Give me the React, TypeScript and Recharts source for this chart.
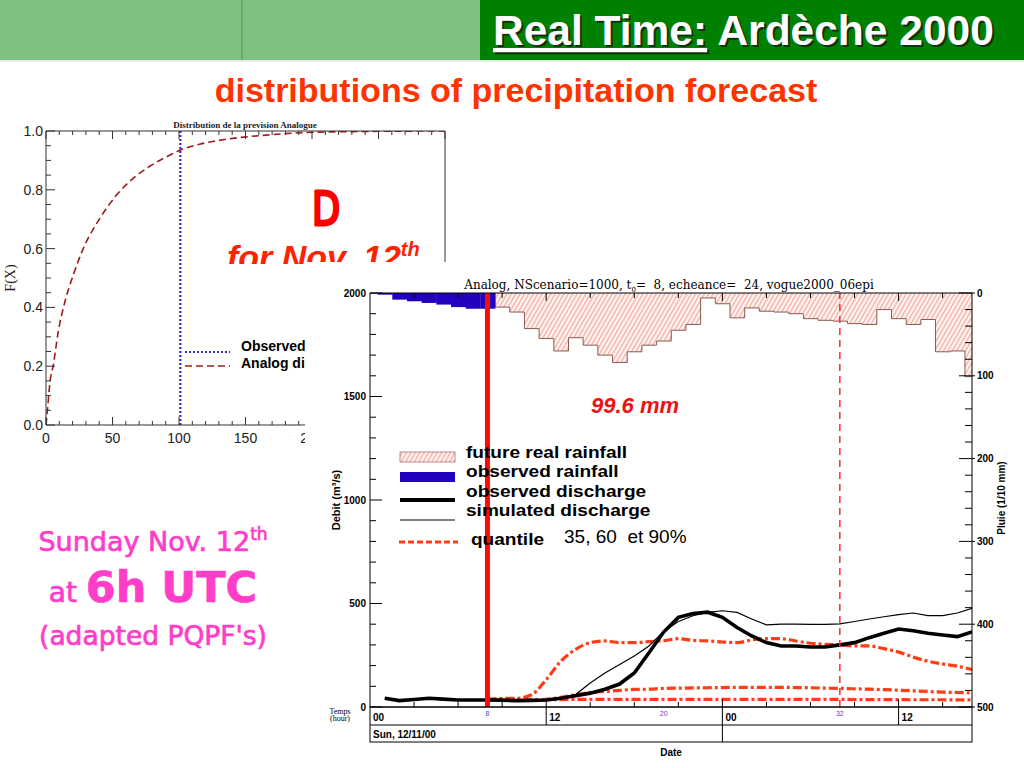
import React from 'react';
import { ComposedChart, LineChart, Line, Bar, XAxis, YAxis, ReferenceLine } from 'recharts';

// ---------------- Left panel : CDF of the analog precipitation forecast ----------------
const cdfPrecip = [0, 1.2, 3, 5.5, 9.2, 14.2, 20.5, 28, 40.5, 53, 65.5, 78, 90.5, 101, 115.5, 140.5, 165.5, 190.5, 215.5, 250, 300];
const cdfProb = [0, 0.057, 0.147, 0.204, 0.317, 0.419, 0.51, 0.6, 0.703, 0.782, 0.839, 0.88, 0.912, 0.935, 0.955, 0.975, 0.986, 0.994, 0.997, 0.999, 1.0];
const observedPrecip = 101;
const cdfXLabels = [0, 50, 100, 150, 200, 250, 300];
const cdfYLabels = [0, 0.2, 0.4, 0.6, 0.8, 1.0];
const cdfXMinor = Array.from({ length: 31 }, (_, i) => i * 10);
const cdfYMinor = Array.from({ length: 21 }, (_, i) => Math.round(i * 5) / 100);

// ---------------- Right panel : hydrograph (hours from Sun 12/11/00 00h) ----------------
const hours = [0, 1, 2, 3, 4, 5, 6, 7, 8, 9, 10, 11, 12, 13, 14, 15, 16, 17, 18, 19, 20, 21, 22, 23, 24, 25, 26, 27, 28, 29, 30, 31, 32, 33, 34, 35, 36, 37, 38, 39, 40, 41];
const FC_START = 8; // forecast time t0
const QUANT_MARK = 32;
// observed rainfall (1/10 mm), hours 0..8
const observedRain = [0.5, 2, 8, 10, 12, 14, 17, 19, 19];
// future real rainfall (1/10 mm), hours 9..41
const FUT_START = 9;
const futureRain = [17, 23, 43, 55, 70, 54, 63, 75, 84, 71, 63, 58, 45, 38, 6, 13, 30, 18, 22, 23, 25, 31, 33, 34, 37, 38, 20, 31, 38, 32, 71, 70, 101];
// observed discharge (m3/s), hours 0..41
const observedDischarge = [null, 42, 31, 36, 42, 38, 34, 34, 34, 33, 31, 32, 34, 42, 54, 67, 86, 111, 164, 262, 362, 433, 452, 458, 433, 384, 343, 311, 295, 295, 290, 290, 300, 311, 335, 356, 377, 368, 356, 348, 340, 363];
// simulated discharge and quantiles, hours 8..41
const simulatedDischarge = [34, 33, 31, 32, 34, 42, 60, 116, 164, 205, 246, 295, 365, 413, 441, 457, 465, 457, 425, 397, 400, 400, 399, 399, 402, 413, 425, 436, 446, 454, 441, 441, 454, 477];
const quantile90 = [37, 41, 42, 59, 132, 221, 278, 311, 319, 311, 311, 316, 320, 330, 322, 319, 314, 311, 324, 330, 330, 319, 308, 303, 300, 295, 295, 282, 265, 241, 221, 208, 197, 181];
const quantile60 = [37, 37, 34, 35, 37, 47, 59, 70, 75, 80, 85, 86, 90, 91, 92, 93, 94, 95, 95, 95, 95, 94, 93, 91, 90, 88, 86, 84, 81, 78, 75, 72, 70, 68];
const quantile35 = [37, 36, 35, 35, 35, 36, 37, 37, 37, 37, 37, 37, 37, 37, 37, 37, 37, 37, 37, 37, 37, 37, 37, 37, 37, 36, 36, 36, 36, 35, 35, 35, 34, 34];

const dischargeTicks = Array.from({ length: 21 }, (_, i) => i * 100);
const dischargeLabels = [0, 500, 1000, 1500, 2000];
const rainTicks = Array.from({ length: 26 }, (_, i) => i * 20);
const rainLabels = [0, 100, 200, 300, 400, 500];
const dayHours = [0, 12, 24, 36];
const purpleHours = [8, 20, 32];
const stepHours = [3, 6, 9, 12, 15, 18, 21, 24, 27, 30, 33, 36, 39];
const bottomTicks = Array.from(new Set([...dayHours, ...purpleHours, ...stepHours])).sort((a, b) => a - b);

const cdfRows = cdfPrecip.map((x, i) => ({ x, F: cdfProb[i] }));
const at = (arr: (number | null)[], h: number, start: number) => (h >= start && h - start < arr.length ? arr[h - start] : null);
const rows = hours.map((h) => ({
  h,
  obsRain: at(observedRain, h, 0),
  futRain: at(futureRain, h, FUT_START),
  obsQ: at(observedDischarge, h, 0),
  simQ: at(simulatedDischarge, h, FC_START),
  q35: at(quantile35, h, FC_START),
  q60: at(quantile60, h, FC_START),
  q90: at(quantile90, h, FC_START),
}));

const SANS = "'Liberation Sans', Arial, Helvetica, sans-serif";
const SERIF = "'Liberation Serif', 'Times New Roman', serif";
const DSERIF = "'DejaVu Serif', serif";
const PINKF = "'DejaVu Sans', sans-serif";

// layout
const L = { left: 0, top: 110, w: 460, h: 350, x0: 46, x1: 445, y0: 131, y1: 425 };
const R = { left: 305, top: 262, w: 719, h: 506, x0: 370, x1: 972, y0: 293, y1: 707 };
const ROW1 = 18;
const ROW2 = 35;
const BAR_W = (R.x1 - R.x0) / 41;

const near = (list: number[], v: number) => list.some((m) => Math.abs(m - v) < 1e-6);

// ---- left chart ticks
const LYTick = (p: any) => {
  const v = p.payload.value as number;
  const major = near(cdfYLabels, v);
  return (
    <g>
      <line x1={p.x} y1={p.y} x2={p.x + (major ? 9 : 5)} y2={p.y} stroke="#333" />
      {major && (
        <text x={p.x - 3} y={p.y + 5} textAnchor="end" fontSize={14} fontFamily={SANS} fill="#222">
          {v.toFixed(1)}
        </text>
      )}
    </g>
  );
};
const LYTickR = (p: any) => {
  const v = p.payload.value as number;
  const major = near(cdfYLabels, v);
  return <line x1={p.x} y1={p.y} x2={p.x - (major ? 9 : 5)} y2={p.y} stroke="#333" />;
};
const LXTick = (p: any) => {
  const v = p.payload.value as number;
  const major = near(cdfXLabels, v);
  return (
    <g>
      <line x1={p.x} y1={p.y} x2={p.x} y2={p.y - (major ? 8 : 4)} stroke="#333" />
      {major && (
        <text x={p.x} y={p.y + 18} textAnchor="middle" fontSize={14} fontFamily={SANS} fill="#222">
          {v}
        </text>
      )}
    </g>
  );
};
const LXTickTop = (p: any) => {
  const v = p.payload.value as number;
  const major = near(cdfXLabels, v);
  return <line x1={p.x} y1={p.y} x2={p.x} y2={p.y + (major ? 8 : 4)} stroke="#333" />;
};

// ---- right chart ticks
const QTick = (p: any) => {
  const v = p.payload.value as number;
  const major = near(dischargeLabels, v);
  return (
    <g>
      <line x1={p.x} y1={p.y} x2={p.x + (major ? 12 : 6)} y2={p.y} stroke="#000" />
      {major && (
        <text x={p.x - 4} y={p.y + 3.5} textAnchor="end" fontSize={10} fontWeight="bold" fontFamily={SANS} fill="#000">
          {v}
        </text>
      )}
    </g>
  );
};
const RainTick = (p: any) => {
  const v = p.payload.value as number;
  const major = near(rainLabels, v);
  return (
    <g>
      <line x1={p.x + (major ? 3 : 0)} y1={p.y} x2={p.x - (major ? 13 : 7)} y2={p.y} stroke="#000" />
      {major && (
        <text x={p.x + 5} y={p.y + 3.5} textAnchor="start" fontSize={10} fontWeight="bold" fontFamily={SANS} fill="#000">
          {v}
        </text>
      )}
    </g>
  );
};
const HourTick = (p: any) => {
  const v = p.payload.value as number;
  const isStep = near(stepHours, v);
  const isDay = near(dayHours, v);
  const isPurple = near(purpleHours, v);
  return (
    <g>
      {isStep && <line x1={p.x} y1={p.y} x2={p.x} y2={p.y - (isDay ? 8 : 5)} stroke="#000" />}
      {isDay && v > 0 && <line x1={p.x} y1={p.y} x2={p.x} y2={p.y + (v % 24 === 0 ? ROW2 : ROW1)} stroke="#000" />}
      {isDay && (
        <text x={p.x + 3} y={p.y + 14} fontSize={10} fontWeight="bold" fontFamily={SANS} fill="#000">
          {String(v % 24).padStart(2, '0')}
        </text>
      )}
      {isPurple && (
        <text x={p.x} y={p.y + 9} textAnchor="middle" fontSize={7} fontFamily={SANS} fill="#6a3cc8">
          {v}
        </text>
      )}
    </g>
  );
};
const HourTickTop = (p: any) => {
  const v = p.payload.value as number;
  return <line x1={p.x} y1={p.y} x2={p.x} y2={p.y + (near(dayHours, v) ? 8 : 5)} stroke="#000" />;
};

const barBox = (p: any) => {
  const cx = p.x + p.width / 2;
  const top = Math.min(p.y, p.y + p.height);
  return { x: cx - BAR_W / 2, top, hh: Math.abs(p.height) };
};

const HatchBar = (p: any) => {
  const v = p.payload?.futRain;
  if (v == null) return <g />;
  const { x, top, hh } = barBox(p);
  const k = v ? hh / v : 0;
  const prevRow = rows.find((r) => r.h === p.payload.h - 1);
  const prev = prevRow ? prevRow.futRain : null;
  const prevBottom = prev == null ? top : top + prev * k;
  return (
    <g>
      <rect x={x} y={top} width={BAR_W + 0.3} height={hh} fill="url(#hatchFut)" />
      <path d={`M${x},${prevBottom}V${top + hh}H${x + BAR_W}`} stroke="#8a5a52" strokeWidth={1} fill="none" />
    </g>
  );
};

const ObsBar = (p: any) => {
  const v = p.payload?.obsRain;
  if (v == null) return <g />;
  const { x, top, hh } = barBox(p);
  return <rect x={x} y={top} width={BAR_W + 0.3} height={hh} fill="#2300c0" />;
};

const HatchDefs = ({ id }: { id: string }) => (
  <defs>
    <pattern id={id} width={3.8} height={3.8} patternUnits="userSpaceOnUse" patternTransform="rotate(30)">
      <rect width={3.8} height={3.8} fill="#fff6f4" />
      <line x1={0.8} y1={0} x2={0.8} y2={3.8} stroke="#f2a396" strokeWidth={1.2} />
    </pattern>
  </defs>
);

const QCOL = '#ff3c14';
const PINK = '#ff3dc8';

export default function App() {
  return (
    <div style={{ position: 'absolute', left: 0, top: 0, width: 1024, height: 768, background: '#fff', overflow: 'hidden' }}>
      {/* slide background: banner, titles, pink text */}
      <svg width={1024} height={768} style={{ position: 'absolute', left: 0, top: 0 }}>
        <rect x={0} y={0} width={480} height={60} fill="#80c080" />
        <line x1={242} y1={0} x2={242} y2={60} stroke="#5fa55f" strokeWidth={1.5} />
        <rect x={480} y={0} width={544} height={60} fill="#008000" />
        <line x1={0} y1={61} x2={1024} y2={61} stroke="#d8e8d8" strokeWidth={1.5} />
        <text x={495} y={47} fontSize={42.5} fontWeight="bold" fontFamily={SANS} fill="#103010">
          <tspan style={{ textDecoration: 'underline' }}>Real Time:</tspan> Ardèche 2000
        </text>
        <text x={493} y={45} fontSize={42.5} fontWeight="bold" fontFamily={SANS} fill="#ffffff">
          <tspan style={{ textDecoration: 'underline' }}>Real Time:</tspan> Ardèche 2000
        </text>
        <text x={516} y={102} textAnchor="middle" fontSize={34} fontWeight="bold" fontFamily={SANS} fill="#ff3300">
          distributions of precipitation forecast
        </text>
        <g fontFamily={PINKF} fill={PINK} stroke={PINK} strokeWidth={0.7} textAnchor="middle">
          <text x={153} y={551} fontSize={27}>
            Sunday Nov. 12<tspan fontSize={17} dy={-11}>th</tspan>
          </text>
          <text x={153} y={602}>
            <tspan fontSize={28}>at </tspan>
            <tspan fontSize={43} fontWeight="bold">6h UTC</tspan>
          </text>
          <text x={153} y={645} fontSize={26.5}>(adapted PQPF's)</text>
        </g>
      </svg>

      {/* left CDF chart */}
      <div style={{ position: 'absolute', left: L.left, top: L.top, width: L.w, height: L.h }}>
        <LineChart width={L.w} height={L.h} data={cdfRows} margin={{ top: L.y0 - L.top - 1, left: L.x0 - L.left - 40, right: L.left + L.w - L.x1 - 1, bottom: L.top + L.h - L.y1 - 30 }}>
          <ReferenceLine x={observedPrecip} stroke="#2a2ad0" strokeWidth={2.2} strokeDasharray="2 2" ifOverflow="visible" />
          <Line type="monotone" dataKey="F" stroke="#9e1b1b" strokeWidth={1.6} strokeDasharray="7 4" dot={false} activeDot={false} isAnimationActive={false} />
          <XAxis dataKey="x" type="number" domain={[0, 300]} ticks={cdfXMinor} interval={0} allowDataOverflow height={30} tickSize={0} tickMargin={0} tickLine={false} axisLine={{ stroke: '#333' }} tick={LXTick} />
          <XAxis xAxisId="top" dataKey="x" type="number" orientation="top" domain={[0, 300]} ticks={cdfXMinor} interval={0} allowDataOverflow height={1} tickSize={0} tickMargin={0} tickLine={false} axisLine={{ stroke: '#333' }} tick={LXTickTop} />
          <YAxis type="number" domain={[0, 1]} ticks={cdfYMinor} interval={0} allowDataOverflow width={40} tickSize={0} tickMargin={0} tickLine={false} axisLine={{ stroke: '#333' }} tick={LYTick} />
          <YAxis yAxisId="r" orientation="right" type="number" domain={[0, 1]} ticks={cdfYMinor} interval={0} width={1} tickSize={0} tickMargin={0} tickLine={false} axisLine={{ stroke: '#333' }} tick={LYTickR} />
        </LineChart>
      </div>

      {/* left chart annotations */}
      <svg width={1024} height={768} style={{ position: 'absolute', left: 0, top: 0, pointerEvents: 'none' }}>
        <defs>
          <clipPath id="clipNov">
            <rect x={0} y={0} width={1024} height={264} />
          </clipPath>
        </defs>
        <text x={245} y={128} textAnchor="middle" fontSize={9} fontWeight="bold" fontFamily={SERIF} fill="#222">
          Distribution de la prevision Analogue
        </text>
        <text x={15} y={278} transform="rotate(-90 15 278)" textAnchor="middle" fontSize={14} fontFamily={SERIF} fill="#222">
          F(X)
        </text>
        <line x1={185} y1={352} x2={230} y2={352} stroke="#2a2ad0" strokeWidth={2} strokeDasharray="2 2" />
        <line x1={185} y1={366} x2={230} y2={366} stroke="#9e1b1b" strokeWidth={1.6} strokeDasharray="7 4" />
        <text x={241} y={351} fontSize={14} fontWeight="bold" fontFamily={SANS} fill="#000">Observed</text>
        <text x={241} y={368} fontSize={14} fontWeight="bold" fontFamily={SANS} fill="#000">Analog di</text>
        <text transform="translate(312 225) scale(0.78 1)" fontSize={47} fontFamily={PINKF} fill="#ff0000" stroke="#ff0000" strokeWidth={3} strokeLinejoin="round">D</text>
        <g clipPath="url(#clipNov)">
          <text x={227} y={269} fontSize={34} fontWeight="bold" fontStyle="italic" fontFamily={SANS} fill="#ff2200">
            for Nov. 12<tspan fontSize={20} dy={-13}>th</tspan>
          </text>
        </g>
      </svg>

      {/* right hydrograph */}
      <div style={{ position: 'absolute', left: R.left, top: R.top, width: R.w, height: R.h, background: '#fff' }}>
        <ComposedChart
          width={R.w}
          height={R.h}
          data={rows}
          barCategoryGap={0}
          barGap={0}
          margin={{ top: R.y0 - R.top - 1, left: R.x0 - R.left - 40, right: R.left + R.w - R.x1 - 40, bottom: R.top + R.h - R.y1 - 40 }}
        >
          <HatchDefs id="hatchFut" />
          <Bar dataKey="futRain" xAxisId={0} yAxisId="rain" barSize={BAR_W} shape={HatchBar} isAnimationActive={false} />
          <Bar dataKey="obsRain" xAxisId="obs" yAxisId="rain" barSize={BAR_W} shape={ObsBar} isAnimationActive={false} />
          <Line dataKey="q35" type="monotone" stroke={QCOL} strokeWidth={3.2} strokeDasharray="9 3 3 3" dot={false} activeDot={false} isAnimationActive={false} />
          <Line dataKey="q60" type="monotone" stroke={QCOL} strokeWidth={3.2} strokeDasharray="9 3 3 3" dot={false} activeDot={false} isAnimationActive={false} />
          <Line dataKey="q90" type="monotone" stroke={QCOL} strokeWidth={3.2} strokeDasharray="9 3 3 3" dot={false} activeDot={false} isAnimationActive={false} />
          <Line dataKey="simQ" type="linear" stroke="#000" strokeWidth={1.2} dot={false} activeDot={false} isAnimationActive={false} />
          <Line dataKey="obsQ" type="linear" stroke="#000" strokeWidth={3.6} dot={false} activeDot={false} isAnimationActive={false} />
          <ReferenceLine x={QUANT_MARK} stroke="#ff2a2a" strokeWidth={1.5} strokeDasharray="7 5" />
          <ReferenceLine x={FC_START} stroke="#ff0a0a" strokeWidth={5} />
          <XAxis dataKey="h" type="number" domain={[0, 41]} ticks={bottomTicks} interval={0} allowDataOverflow height={40} tickSize={0} tickMargin={0} tickLine={false} axisLine={{ stroke: '#000' }} tick={HourTick} />
          <XAxis xAxisId="top" dataKey="h" type="number" orientation="top" domain={[0, 41]} ticks={stepHours} interval={0} allowDataOverflow height={1} tickSize={0} tickMargin={0} tickLine={false} axisLine={{ stroke: '#000' }} tick={HourTickTop} />
          <XAxis xAxisId="obs" dataKey="h" type="number" domain={[0, 41]} allowDataOverflow hide />
          <YAxis type="number" domain={[0, 2000]} ticks={dischargeTicks} interval={0} allowDataOverflow width={40} tickSize={0} tickMargin={0} tickLine={false} axisLine={{ stroke: '#000' }} tick={QTick} />
          <YAxis yAxisId="rain" orientation="right" type="number" domain={[0, 500]} reversed ticks={rainTicks} interval={0} allowDataOverflow width={40} tickSize={0} tickMargin={0} tickLine={false} axisLine={{ stroke: '#000' }} tick={RainTick} />
        </ComposedChart>
      </div>

      {/* right chart annotations */}
      <svg width={1024} height={768} style={{ position: 'absolute', left: 0, top: 0, pointerEvents: 'none' }}>
        <HatchDefs id="hatchLeg" />
        <text x={669} y={289} textAnchor="middle" fontSize={12} fontFamily={DSERIF} fill="#000" xmlSpace="preserve" style={{ whiteSpace: 'pre' }}>
          {'Analog, NScenario=1000, t'}
          <tspan fontSize={7} dy={3}>0</tspan>
          <tspan dy={-3}>{'=  8, echeance=  24, vogue2000_06epi'}</tspan>
        </text>
        <text x={340} y={500} transform="rotate(-90 340 500)" textAnchor="middle" fontSize={11} fontWeight="bold" fontFamily={SANS} fill="#000">
          Debit (m³/s)
        </text>
        <text x={1005} y={498} transform="rotate(-90 1005 498)" textAnchor="middle" fontSize={10} fontWeight="bold" fontFamily={SANS} fill="#000">
          Pluie (1/10 mm)
        </text>
        <text x={340} y={714} textAnchor="middle" fontSize={8} fontFamily={SERIF} fill="#000">Temps</text>
        <text x={340} y={721} textAnchor="middle" fontSize={8} fontFamily={SERIF} fill="#000">(hour)</text>
        <rect x={R.x0} y={R.y1} width={R.x1 - R.x0} height={ROW2} fill="none" stroke="#000" strokeWidth={1} />
        <line x1={R.x0} y1={R.y1 + ROW1} x2={R.x1} y2={R.y1 + ROW1} stroke="#000" strokeWidth={1} />
        <text x={R.x0 + 3} y={R.y1 + 31} fontSize={10} fontWeight="bold" fontFamily={SANS} fill="#000">Sun, 12/11/00</text>
        <text x={671} y={756} textAnchor="middle" fontSize={10} fontWeight="bold" fontFamily={SANS} fill="#000">Date</text>

        {/* legend */}
        <rect x={400} y={452} width={55} height={10} fill="url(#hatchLeg)" stroke="#b07070" strokeWidth={0.8} />
        <rect x={400} y={472} width={55} height={10} fill="#2300c0" />
        <line x1={400} y1={500} x2={455} y2={500} stroke="#000" strokeWidth={4} />
        <line x1={400} y1={520} x2={455} y2={520} stroke="#000" strokeWidth={1.2} />
        <line x1={399} y1={542} x2={458} y2={542} stroke={QCOL} strokeWidth={3} strokeDasharray="6 3" />
        <g transform="translate(466 0) scale(1.15 1)" fontSize={16.6} fontWeight="bold" fontFamily={SANS} fill="#000">
          <text x={0} y={458}>future real rainfall</text>
          <text x={0} y={477.5}>observed rainfall</text>
          <text x={0} y={497}>observed discharge</text>
          <text x={0} y={516.5}>simulated discharge</text>
          <text x={4.3} y={545}>quantile</text>
        </g>
        <text x={564} y={543} fontSize={19} fontFamily={SANS} fill="#000" xmlSpace="preserve" style={{ whiteSpace: 'pre' }}>
          {'35, 60  et 90%'}
        </text>
        <text x={591} y={413} fontSize={22} fontWeight="bold" fontStyle="italic" fontFamily={SANS} fill="#ee1111">
          99.6 mm
        </text>
      </svg>
    </div>
  );
}
